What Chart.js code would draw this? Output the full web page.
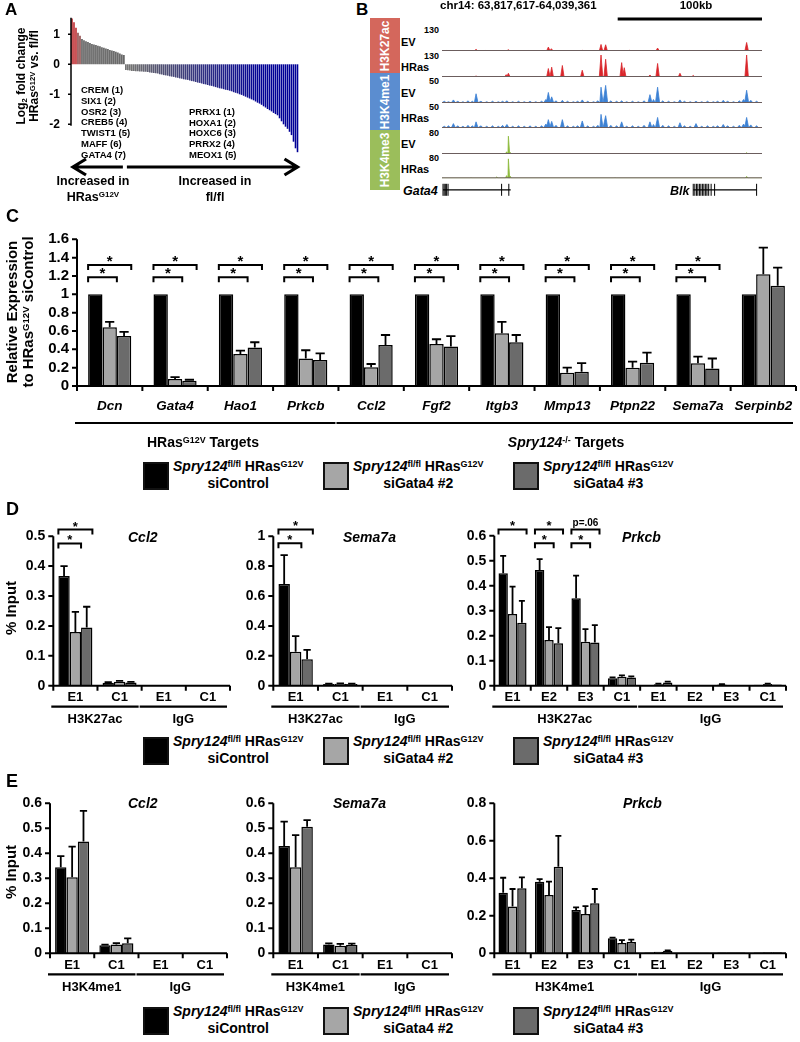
<!DOCTYPE html>
<html>
<head>
<meta charset="utf-8">
<script src="https://cdn.jsdelivr.net/npm/chart.js@4.4.1/dist/chart.umd.min.js"></script>
<style>
  body { margin: 0; background: #fff; }
  #page { position: relative; width: 800px; height: 1042px; overflow: hidden; background: #fff;
          font-family: 'Liberation Sans', Arial, sans-serif; font-weight: bold; color: #000; }
  #page canvas { position: absolute; }
  .lbl { position: absolute; white-space: nowrap; line-height: 1; }
  .lbl sup { font-size: 64%; vertical-align: 0.45em; line-height: 0; }
  .lbl sub { font-size: 64%; vertical-align: -0.2em; line-height: 0; }
  .box { position: absolute; width: 22px; height: 24px; border: 2px solid #111; }
</style>
</head>
<body>
<div id="page"></div>
<script>
// ---------- A: waterfall of log2 fold changes ----------
const aLogFC = [
  1.53, 1.40, 1.22, 1.05, 0.95, 0.84, 0.80, 0.77, 0.74, 0.71, 0.68, 0.66, 0.64, 0.62,
  0.60, 0.57, 0.55, 0.53, 0.51, 0.48, 0.46, 0.44, 0.42, 0.39, 0.36, 0.33, 0.31,
  -0.19, -0.20, -0.21, -0.22, -0.22, -0.23, -0.23, -0.24, -0.24, -0.25, -0.25,
  -0.26, -0.27, -0.28, -0.29, -0.30, -0.31, -0.33, -0.34, -0.36,
  -0.37, -0.38, -0.40, -0.41, -0.42, -0.44, -0.45, -0.47, -0.48, -0.50, -0.51,
  -0.52, -0.54, -0.56, -0.57, -0.59, -0.61, -0.62, -0.64, -0.66, -0.67,
  -0.69, -0.71, -0.72, -0.74, -0.76, -0.78, -0.80, -0.81, -0.83, -0.85,
  -0.86, -0.88, -0.90, -0.93, -0.95, -0.97, -1.00,
  -1.02, -1.05, -1.08, -1.11, -1.14, -1.17,
  -1.20, -1.24, -1.28, -1.31, -1.35,
  -1.40, -1.44, -1.49, -1.53, -1.57,
  -1.62, -1.66, -1.70, -1.80, -1.90,
  -2.00, -2.08, -2.15, -2.25, -2.36, -2.58, -2.80, -2.93
];
const aTicks = ['1', '0', '-1', '-2'];
const aUpGenes = ['CREM (1)', 'SIX1 (2)', 'OSR2 (3)', 'CREB5 (4)', 'TWIST1 (5)', 'MAFF (6)', 'GATA4 (7)'];
const aDownGenes = ['PRRX1 (1)', 'HOXA1 (2)', 'HOXC6 (3)', 'PRRX2 (4)', 'MEOX1 (5)'];

// ---------- B: genome tracks (positions in kb from 63,817,617) ----------
const chrLen = 221.744;
const k27EvPos = [3, 23.6, 30, 46.0, 60, 73.7, 75.8, 97.2, 110.2, 113.4, 130, 149.4, 190, 211.1];
const k27EvH   = [3, 10, 3, 8, 3, 24, 14, 4, 40, 38, 4, 18, 3, 52];
const k27RasPos = [5, 23.6, 44.5, 46.0, 60, 73.7, 76.0, 83.4, 97.2, 110.2, 113.4, 124.5, 126.3, 144.1, 149.4, 164.9, 174.1, 190, 211.1];
const k27RasH   = [3, 6, 14, 22, 3, 50, 58, 68, 40, 130, 105, 85, 55, 12, 80, 22, 9, 3, 130];
const k4me1Pos = [1.6, 4.5, 7.9, 11, 14.5, 18, 21, 23.6, 27, 31, 35, 39, 42, 45, 49, 53, 57, 61, 65, 69,
  72, 73.7, 76, 79, 83.4, 87, 91, 94, 97.2, 101, 105, 108, 110.2, 113.4, 117, 121, 124.5, 128, 132, 136,
  140, 144.1, 146.5, 149.4, 153, 157, 161, 164.9, 168, 172, 176, 180, 184, 188, 191, 194.9, 198, 202, 206, 209,
  211.1, 214, 218];
const k4me1EvH = [4, 3, 7, 4, 3, 5, 4, 21, 4, 3, 4, 3, 4, 5, 3, 4, 3, 4, 3, 4,
  8, 24, 14, 5, 6, 4, 3, 4, 7, 4, 3, 5, 36, 40, 5, 4, 5, 3, 4, 3,
  5, 19, 8, 36, 5, 4, 3, 7, 4, 3, 4, 3, 4, 3, 4, 6, 4, 3, 5, 8, 29, 6, 4];
const k4me1RasH = [4, 5, 10, 5, 4, 6, 5, 14, 5, 4, 5, 4, 6, 8, 4, 5, 4, 5, 4, 5,
  9, 19, 15, 6, 19, 5, 4, 5, 16, 5, 4, 6, 31, 28, 6, 5, 14, 4, 5, 4,
  6, 14, 8, 24, 6, 5, 4, 12, 5, 4, 10, 4, 5, 4, 5, 8, 5, 4, 6, 9, 24, 7, 5];
const k4me3EvPos = [20, 44.8, 46.0, 47.2, 120, 211.1];
const k4me3EvH   = [1.5, 8, 65, 6, 1.5, 5];
const k4me3RasPos = [20, 37.9, 44.8, 46.0, 47.2, 120, 211.1];
const k4me3RasH   = [1.5, 5, 10, 73, 8, 1.5, 7];
const trackMax = [130, 130, 50, 50, 80, 80];
const trackNames = ['EV', 'HRas', 'EV', 'HRas', 'EV', 'HRas'];
const geneNames = ['Gata4', 'Blk'];
const geneStart = [0.7, 174.1];
const geneEnd = [47.6, 218.0];
const geneExons = [
  [0.7, 1.5, 2.3, 3.2, 4.2, 41.3, 46.3],
  [174.1, 175.2, 176.4, 177.3, 178.5, 179.4, 180.6, 181.5, 182.7, 183.6, 184.8, 186.5, 188.9, 218.0]
];

// ---------- C: relative expression ----------
const cGenes = ['Dcn', 'Gata4', 'Hao1', 'Prkcb', 'Ccl2', 'Fgf2', 'Itgb3', 'Mmp13', 'Ptpn22', 'Sema7a', 'Serpinb2'];
const cCtrl   = [1, 1, 1, 1, 1, 1, 1, 1, 1, 1, 1];
const cSi2    = [0.64, 0.076, 0.35, 0.30, 0.204, 0.458, 0.575, 0.145, 0.20, 0.247, 1.22];
const cSi2Err = [0.06, 0.02, 0.035, 0.09, 0.036, 0.052, 0.125, 0.055, 0.065, 0.073, 0.29];
const cSi3    = [0.545, 0.058, 0.42, 0.284, 0.447, 0.43, 0.477, 0.156, 0.254, 0.19, 1.094];
const cSi3Err = [0.045, 0.01, 0.057, 0.072, 0.109, 0.115, 0.079, 0.094, 0.109, 0.11, 0.196];
const cTicks = ['0', '0.2', '0.4', '0.6', '0.8', '1', '1.2', '1.4', '1.6'];
const cSigGenes = [0, 1, 2, 3, 4, 5, 6, 7, 8, 9];

// ---------- D: H3K27ac ChIP ----------
const dCats4 = ['E1', 'C1', 'E1', 'C1'];
const dCats8 = ['E1', 'E2', 'E3', 'C1', 'E1', 'E2', 'E3', 'C1'];
const d1Ctrl = [0.367, 0.010, 0.002, 0.001], d1CtrlErr = [0.033, 0.002, 0, 0];
const d1Si2  = [0.180, 0.013, 0.002, 0.001], d1Si2Err  = [0.067, 0.003, 0, 0];
const d1Si3  = [0.195, 0.011, 0.002, 0.001], d1Si3Err  = [0.069, 0.002, 0, 0];
const d2Ctrl = [0.68, 0.012, 0.003, 0.002],  d2CtrlErr = [0.194, 0.002, 0, 0];
const d2Si2  = [0.227, 0.013, 0.003, 0.002], d2Si2Err  = [0.105, 0.002, 0, 0];
const d2Si3  = [0.177, 0.012, 0.002, 0.002], d2Si3Err  = [0.062, 0.002, 0, 0];
const d3Ctrl = [0.45, 0.463, 0.35, 0.03, 0.002, 0.002, 0.005, 0.004],  d3CtrlErr = [0.069, 0.043, 0.09, 0.003, 0, 0, 0.001, 0];
const d3Si2  = [0.287, 0.183, 0.176, 0.036, 0.006, 0.002, 0.003, 0.007], d3Si2Err = [0.109, 0.051, 0.05, 0.005, 0.002, 0, 0, 0.001];
const d3Si3  = [0.252, 0.17, 0.173, 0.033, 0.013, 0.002, 0.003, 0.005], d3Si3Err = [0.087, 0.06, 0.069, 0.004, 0.003, 0, 0, 0];
const d1Ticks = ['0', '0.1', '0.2', '0.3', '0.4', '0.5'];
const d2Ticks = ['0', '0.2', '0.4', '0.6', '0.8', '1'];
const d3Ticks = ['0', '0.1', '0.2', '0.3', '0.4', '0.5', '0.6'];

// ---------- E: H3K4me1 ChIP ----------
const e1Ctrl = [0.344, 0.032, 0.001, 0.001], e1CtrlErr = [0.045, 0.003, 0, 0];
const e1Si2  = [0.304, 0.035, 0.001, 0.001], e1Si2Err  = [0.123, 0.006, 0, 0];
const e1Si3  = [0.447, 0.040, 0.001, 0.001], e1Si3Err  = [0.123, 0.02, 0, 0];
const e2Ctrl = [0.429, 0.035, 0.002, 0.002], e2CtrlErr = [0.098, 0.005, 0, 0];
const e2Si2  = [0.344, 0.030, 0.002, 0.002], e2Si2Err  = [0.129, 0.008, 0, 0];
const e2Si3  = [0.506, 0.033, 0.002, 0.002], e2Si3Err  = [0.027, 0.006, 0, 0];
const e3Ctrl = [0.323, 0.382, 0.231, 0.08, 0.004, 0.003, 0.004, 0.004], e3CtrlErr = [0.08, 0.014, 0.014, 0.004, 0, 0, 0, 0];
const e3Si2  = [0.249, 0.311, 0.21, 0.055, 0.008, 0.003, 0.004, 0.006], e3Si2Err = [0.094, 0.071, 0.042, 0.015, 0, 0, 0, 0];
const e3Si3  = [0.347, 0.462, 0.267, 0.06, 0.014, 0.003, 0.004, 0.005], e3Si3Err = [0.058, 0.164, 0.076, 0.013, 0.002, 0, 0, 0];
const e12Ticks = ['0', '0.1', '0.2', '0.3', '0.4', '0.5', '0.6'];
const e3Ticks = ['0', '0.2', '0.4', '0.6', '0.8'];

const legendNames = ['siControl', 'siGata4 #2', 'siGata4 #3'];

// ---------- helpers ----------
const page = document.getElementById('page');
const FONT = "'Liberation Sans', Arial, sans-serif";
const NARROW = "'Liberation Sans Narrow', 'Liberation Sans', Arial, sans-serif";
const seriesColors = ['#000000', '#a6a6a6', '#6b6b6b'];

function label(html, x, y, opt = {}) {
  const d = document.createElement('div');
  d.className = 'lbl';
  d.innerHTML = html;
  d.style.left = x + 'px';
  d.style.top = y + 'px';
  d.style.fontSize = (opt.size || 14) + 'px';
  if (opt.family) d.style.fontFamily = opt.family;
  if (opt.italic) d.style.fontStyle = 'italic';
  if (opt.color) d.style.color = opt.color;
  if (opt.lh) { d.style.lineHeight = opt.lh + 'px'; d.style.textAlign = 'center'; }
  const tx = opt.align === 'c' ? '-50%' : opt.align === 'r' ? '-100%' : '0';
  d.style.transform = `translate(${tx}, -50%)` + (opt.rotate ? ' rotate(-90deg)' : '');
  page.appendChild(d);
  return d;
}

function canvasAt(x, y, w, h) {
  const c = document.createElement('canvas');
  c.width = w; c.height = h;
  c.style.left = x + 'px'; c.style.top = y + 'px';
  page.appendChild(c);
  return c;
}

function baseOptions(box, area, yMin, yMax, xScale) {
  return {
    responsive: false, animation: false, events: [],
    layout: { padding: { left: area[0] - box[0], top: area[1] - box[1],
                         right: box[0] + box[2] - area[2], bottom: box[1] + box[3] - area[3] } },
    plugins: { legend: { display: false }, tooltip: { enabled: false } },
    scales: { x: Object.assign({ display: false }, xScale || {}), y: { display: false, min: yMin, max: yMax } }
  };
}

// ---------- A ----------
function waterfallColor(v, i) {
  if (i < 3) return '#bd2a2e';
  if (i < 5) return '#8e4848';
  if (v > 0) return '#5a5a5a';
  const t = Math.min(1, Math.max(0, (i - 30) / 65));
  return `rgb(${Math.round(105 * (1 - t))},${Math.round(105 * (1 - t))},${Math.round(105 + 45 * t)})`;
}

(function drawA() {
  const box = [0, 0, 310, 205], area = [71, 17.8, 298.5, 125.8];
  const aRank = aLogFC.map((_, i) => i + 1);
  const firstNeg = aLogFC.findIndex(v => v < 0);
  new Chart(canvasAt(...box), {
    type: 'bar',
    data: { labels: aRank, datasets: [{ data: aLogFC, backgroundColor: aLogFC.map(waterfallColor),
      borderWidth: 0, barPercentage: 1, categoryPercentage: 0.8, clip: false }] },
    options: baseOptions(box, area, -2.05, 1.55),
    plugins: [{
      id: 'waterfallDecor',
      afterDatasetsDraw(chart) {
        const { ctx, chartArea: a } = chart;
        const xs = chart.scales.x, ys = chart.scales.y;
        ctx.save();
        ctx.strokeStyle = '#000'; ctx.fillStyle = '#000';
        ctx.lineWidth = 1.5;
        ctx.beginPath();
        ctx.moveTo(a.left, a.top); ctx.lineTo(a.left, a.bottom);
        aTicks.forEach(t => { const ty = ys.getPixelForValue(Number(t)); ctx.moveTo(a.left - 3, ty); ctx.lineTo(a.left, ty); });
        ctx.stroke();
        ctx.font = `bold 12px ${FONT}`;
        ctx.textAlign = 'right'; ctx.textBaseline = 'middle';
        aTicks.forEach(t => ctx.fillText(t, a.left - 11, ys.getPixelForValue(Number(t))));
        // arrows
        const split = xs.getPixelForValue(firstNeg - 0.5);
        const arrow = (x1, x2, y) => {
          const d = Math.sign(x2 - x1);
          ctx.beginPath();
          ctx.moveTo(x1, y); ctx.lineTo(x2, y);
          ctx.moveTo(x2 - d * 13, y - 8); ctx.lineTo(x2, y); ctx.lineTo(x2 - d * 13, y + 8);
          ctx.stroke();
        };
        ctx.lineWidth = 3.2;
        arrow(split - 2, a.left + 2, 167);
        arrow(split + 2, a.right - 1, 167);
        ctx.restore();
      }
    }]
  });
  label('A', 5, 9, { size: 17 });
  label('Log<sub>2</sub> fold change<br>HRas<sup>G12V</sup> vs. fl/fl', 28, 76, { size: 12, align: 'c', rotate: true, lh: 13 });
  aUpGenes.forEach((g, i) => label(g, 81, [90, 101, 111.5, 122, 132.5, 144, 155][i], { size: 9.5 }));
  aDownGenes.forEach((g, i) => label(g, 189, [112.3, 122.7, 133, 144, 155][i], { size: 9.5 }));
  label('Increased in', 93, 181, { size: 12.5, align: 'c' });
  label('HRas<sup>G12V</sup>', 93, 197, { size: 12.5, align: 'c' });
  label('Increased in', 215, 181, { size: 12.5, align: 'c' });
  label('fl/fl', 215, 197, { size: 12.5, align: 'c' });
})();

// ---------- B ----------
function trackPoints(pos, h, w) {
  const base = 0.6;
  const pts = [{ x: 0, y: base }];
  pos.forEach((p, i) => pts.push({ x: p - w, y: base }, { x: p, y: h[i] }, { x: p + w, y: base }));
  pts.push({ x: chrLen, y: base });
  return pts;
}

(function drawB() {
  const tracks = [
    [k27EvPos, k27EvH, '#d9262b', 1.2], [k27RasPos, k27RasH, '#d9262b', 1.2],
    [k4me1Pos, k4me1EvH, '#3d82d4', 1.4], [k4me1Pos, k4me1RasH, '#3d82d4', 1.4],
    [k4me3EvPos, k4me3EvH, '#8dba3b', 0.9], [k4me3RasPos, k4me3RasH, '#8dba3b', 0.9]
  ];
  const baseY = [51.7, 77.3, 102.7, 128.3, 154, 179.3];
  tracks.forEach(([pos, h, col, w], k) => {
    const top = k === 0 ? 10 : baseY[k] - 23;
    const bottom = k === 5 ? 200 : baseY[k] + 1;
    const box = [442, top, 320, bottom - top], area = [442, baseY[k] - 22, 762, baseY[k]];
    new Chart(canvasAt(...box), {
      type: 'line',
      data: { datasets: [{ data: trackPoints(pos, h, w), borderColor: col, backgroundColor: col,
        fill: 'origin', pointRadius: 0, borderWidth: 0.8, tension: 0 }] },
      options: baseOptions(box, area, 0, trackMax[k], { type: 'linear', min: 0, max: chrLen }),
      plugins: [{
        id: 'trackDecor',
        afterDatasetsDraw(chart) {
          const { ctx, chartArea: a } = chart;
          const xs = chart.scales.x;
          ctx.save();
          ctx.strokeStyle = '#6b5d5d'; ctx.lineWidth = 1;
          ctx.beginPath(); ctx.moveTo(a.left, a.bottom - 0.5); ctx.lineTo(a.right, a.bottom - 0.5); ctx.stroke();
          ctx.strokeStyle = '#000';
          if (k === 0) {
            ctx.lineWidth = 3;
            ctx.beginPath();
            ctx.moveTo(xs.getPixelForValue(chrLen - 100), a.top - 10.7);
            ctx.lineTo(xs.getPixelForValue(chrLen), a.top - 10.7);
            ctx.stroke();
          }
          if (k === 5) {
            const gy = a.bottom + 11.5;
            geneNames.forEach((g, j) => {
              ctx.lineWidth = 1.3;
              ctx.beginPath();
              ctx.moveTo(xs.getPixelForValue(geneStart[j]), gy);
              ctx.lineTo(xs.getPixelForValue(geneEnd[j]), gy);
              ctx.stroke();
              ctx.lineWidth = 1;
              ctx.beginPath();
              geneExons[j].forEach(e => { const ex = xs.getPixelForValue(e); ctx.moveTo(ex, gy - 6); ctx.lineTo(ex, gy + 6); });
              ctx.stroke();
            });
          }
          ctx.restore();
        }
      }]
    });
    label(String(trackMax[k]), 439, baseY[k] - 21.5, { size: 9, align: 'r' });
    label(trackNames[k], 401, baseY[k] - 10, { size: 11 });
  });
  label('B', 356, 9, { size: 17 });
  label('chr14: 63,817,617-64,039,361', 440, 6, { size: 11.5 });
  label('100kb', 696, 6, { size: 11.5, align: 'c' });
  const strips = [['H3K27ac', '#d4675c', 18.3, 73.3], ['H3K4me1', '#5b8dd0', 73.3, 130], ['H3K4me3', '#9bbe5b', 130, 190]];
  strips.forEach(([name, col, y1, y2]) => {
    const s = document.createElement('div');
    s.style.cssText = `position:absolute;left:370px;top:${y1}px;width:30px;height:${y2 - y1}px;background:${col}`;
    page.appendChild(s);
    label(name, 385, (y1 + y2) / 2, { size: 12, align: 'c', rotate: true, color: '#fff' });
  });
  label('Gata4', 403, 191, { size: 12.5, italic: true });
  label('Blk', 670, 191, { size: 12.5, italic: true });
})();

// ---------- grouped bar charts (C, D, E) ----------
function barDecor(cfg) {
  return {
    id: 'barDecor',
    afterDatasetsDraw(chart) {
      const { ctx, chartArea: a } = chart;
      const xs = chart.scales.x, ys = chart.scales.y;
      const y0 = ys.getPixelForValue(0);
      const n = cfg.cats.length;
      ctx.save();
      ctx.strokeStyle = '#000'; ctx.fillStyle = '#000';
      // error bars
      ctx.lineWidth = 1.8;
      cfg.errs.forEach((errs, d) => {
        const bars = chart.getDatasetMeta(d).data;
        errs.forEach((e, i) => {
          if (!e) return;
          const b = bars[i], v = cfg.vals[d][i];
          const yt = ys.getPixelForValue(v + e);
          const cap = Math.max(3, b.width * 0.32);
          ctx.beginPath();
          ctx.moveTo(b.x, ys.getPixelForValue(v)); ctx.lineTo(b.x, yt);
          ctx.moveTo(b.x - cap, yt); ctx.lineTo(b.x + cap, yt);
          ctx.stroke();
        });
      });
      // axes
      ctx.lineWidth = 2;
      ctx.beginPath();
      ctx.moveTo(a.left, ys.getPixelForValue(Number(cfg.ticks[cfg.ticks.length - 1])));
      ctx.lineTo(a.left, y0);
      ctx.moveTo(a.left - 1, y0); ctx.lineTo(a.right, y0);
      cfg.ticks.forEach(t => { const ty = ys.getPixelForValue(Number(t)); ctx.moveTo(a.left - 5, ty); ctx.lineTo(a.left, ty); });
      for (let i = 0; i <= n; i++) { const tx = xs.getPixelForValue(i - 0.5); ctx.moveTo(tx, y0); ctx.lineTo(tx, y0 + 5); }
      ctx.stroke();
      ctx.font = cfg.tickFont;
      ctx.textAlign = 'right'; ctx.textBaseline = 'middle';
      cfg.ticks.forEach(t => ctx.fillText(t, a.left - 8, ys.getPixelForValue(Number(t))));
      ctx.font = cfg.catFont;
      ctx.textAlign = 'center';
      cfg.cats.forEach((c, i) => ctx.fillText(c, xs.getPixelForValue(i), y0 + cfg.catDy));
      // group underlines and names
      ctx.lineWidth = 2.2;
      ctx.font = cfg.grpFont;
      cfg.groups.forEach(([from, to, name]) => {
        const xl = xs.getPixelForValue(from - 0.5) - 2, xr = xs.getPixelForValue(to + 0.5) - 3;
        ctx.beginPath(); ctx.moveTo(xl, y0 + cfg.lineDy); ctx.lineTo(xr, y0 + cfg.lineDy); ctx.stroke();
        if (name) ctx.fillText(name, (xl + xr) / 2, y0 + cfg.nameDy);
      });
      // significance brackets
      ctx.lineWidth = 2;
      ctx.textBaseline = 'alphabetic';
      cfg.brackets.forEach(([i, to, v, txt]) => {
        const b0 = chart.getDatasetMeta(0).data[i], b1 = chart.getDatasetMeta(to).data[i];
        const xl = b0.x - b0.width / 2, xr = b1.x + b1.width / 2, by = ys.getPixelForValue(v);
        ctx.beginPath();
        ctx.moveTo(xl, by + 5); ctx.lineTo(xl, by); ctx.lineTo(xr, by); ctx.lineTo(xr, by + 5);
        ctx.stroke();
        ctx.font = txt === '*' ? cfg.starFont : `bold 10px ${NARROW}`;
        ctx.fillText(txt, (xl + xr) / 2, txt === '*' ? by + 1 : by - 3);
      });
      ctx.restore();
    }
  };
}

function groupedChart(cfg) {
  const ticksNum = cfg.ticks.map(Number);
  new Chart(canvasAt(...cfg.box), {
    type: 'bar',
    data: {
      labels: cfg.cats,
      datasets: cfg.vals.map((vals, d) => ({
        data: vals, backgroundColor: seriesColors[d], borderColor: '#000', borderWidth: 1.5,
        barPercentage: 1, categoryPercentage: cfg.catPct
      }))
    },
    options: baseOptions(cfg.box, cfg.area, 0, cfg.yMax || ticksNum[ticksNum.length - 1]),
    plugins: [barDecor(cfg)]
  });
}

function legend(top) {
  const boxX = [143, 323, 513];
  legendNames.forEach((nm, k) => {
    const b = document.createElement('div');
    b.className = 'box';
    b.style.left = boxX[k] + 'px'; b.style.top = top + 'px';
    b.style.background = seriesColors[k];
    page.appendChild(b);
    label(`<i>Spry124</i><sup>fl/fl</sup> HRas<sup>G12V</sup><br>${nm}`, boxX[k] + 30, top + 13,
      { size: 14, lh: 17, family: NARROW });
  });
}

// C
const cBrackets = [];
cSigGenes.forEach(i => { cBrackets.push([i, 2, 1.32, '*'], [i, 1, 1.185, '*']); });
groupedChart({
  box: [0, 222, 800, 233], area: [77, 239.3, 796, 386],
  cats: cGenes, vals: [cCtrl, cSi2, cSi3], errs: [cCtrl.map(() => 0), cSi2Err, cSi3Err],
  ticks: cTicks, catPct: 0.66,
  tickFont: `bold 15px ${FONT}`, catFont: `italic bold 13.5px ${FONT}`, grpFont: `bold 13px ${FONT}`,
  starFont: `bold 15px ${FONT}`,
  catDy: 20, lineDy: 37, nameDy: 56,
  groups: [[0, 3, ''], [4, 10, '']],
  brackets: cBrackets
});
label('C', 6, 216, { size: 18 });
label('Relative Expression<br>to HRas<sup>G12V</sup> siControl', 20, 312, { size: 15, align: 'c', rotate: true, lh: 16 });
label('HRas<sup>G12V</sup> Targets', 203, 442, { size: 14, align: 'c', family: NARROW });
label('<i>Spry124</i><sup>-/-</sup> Targets', 566, 442, { size: 14, align: 'c', family: NARROW });
legend(462);

// D
const dCommon = {
  catPct: 0.77, tickFont: `bold 14px ${FONT}`, catFont: `bold 13px ${FONT}`, grpFont: `bold 13px ${FONT}`,
  starFont: `bold 13px ${FONT}`, catDy: 12, lineDy: 21, nameDy: 34
};
groupedChart(Object.assign({}, dCommon, {
  box: [0, 505, 235, 225], area: [53.3, 536.2, 230, 685.7],
  cats: dCats4, vals: [d1Ctrl, d1Si2, d1Si3], errs: [d1CtrlErr, d1Si2Err, d1Si3Err], ticks: d1Ticks,
  groups: [[0, 1, 'H3K27ac'], [2, 3, 'IgG']],
  brackets: [[0, 2, 0.522, '*'], [0, 1, 0.476, '*']]
}));
groupedChart(Object.assign({}, dCommon, {
  box: [235, 505, 230, 225], area: [273.3, 536.2, 452, 685.7],
  cats: dCats4, vals: [d2Ctrl, d2Si2, d2Si3], errs: [d2CtrlErr, d2Si2Err, d2Si3Err], ticks: d2Ticks,
  groups: [[0, 1, 'H3K27ac'], [2, 3, 'IgG']],
  brackets: [[0, 2, 1.045, '*'], [0, 1, 0.953, '*']]
}));
groupedChart(Object.assign({}, dCommon, {
  box: [465, 505, 335, 225], area: [494.3, 535.7, 786, 685.7],
  cats: dCats8, vals: [d3Ctrl, d3Si2, d3Si3], errs: [d3CtrlErr, d3Si2Err, d3Si3Err], ticks: d3Ticks,
  groups: [[0, 3, 'H3K27ac'], [4, 7, 'IgG']],
  brackets: [[0, 2, 0.625, '*'], [1, 2, 0.625, '*'], [1, 1, 0.57, '*'], [2, 2, 0.625, 'p=.06'], [2, 1, 0.57, '*']]
}));
label('D', 6, 509, { size: 18 });
label('% Input', 10, 608, { size: 15, align: 'c', rotate: true });
label('Ccl2', 128, 537, { size: 14, italic: true });
label('Sema7a', 343, 537, { size: 14, italic: true });
label('Prkcb', 622, 537, { size: 14, italic: true });
legend(737);

// E
groupedChart(Object.assign({}, dCommon, {
  box: [0, 790, 235, 212], area: [50, 803.3, 227, 953.3],
  cats: dCats4, vals: [e1Ctrl, e1Si2, e1Si3], errs: [e1CtrlErr, e1Si2Err, e1Si3Err], ticks: e12Ticks,
  groups: [[0, 1, 'H3K4me1'], [2, 3, 'IgG']], brackets: []
}));
groupedChart(Object.assign({}, dCommon, {
  box: [235, 790, 230, 212], area: [273.3, 803.3, 452, 953.3],
  cats: dCats4, vals: [e2Ctrl, e2Si2, e2Si3], errs: [e2CtrlErr, e2Si2Err, e2Si3Err], ticks: e12Ticks,
  groups: [[0, 1, 'H3K4me1'], [2, 3, 'IgG']], brackets: []
}));
groupedChart(Object.assign({}, dCommon, {
  box: [465, 790, 335, 212], area: [494.3, 803.3, 786, 953.3],
  cats: dCats8, vals: [e3Ctrl, e3Si2, e3Si3], errs: [e3CtrlErr, e3Si2Err, e3Si3Err], ticks: e3Ticks,
  groups: [[0, 3, 'H3K4me1'], [4, 7, 'IgG']], brackets: []
}));
label('E', 6, 781, { size: 18 });
label('% Input', 10, 872, { size: 15, align: 'c', rotate: true });
label('Ccl2', 128, 803, { size: 14, italic: true });
label('Sema7a', 333, 803, { size: 14, italic: true });
label('Prkcb', 623, 803, { size: 14, italic: true });
legend(1007);
</script>
</body>
</html>
